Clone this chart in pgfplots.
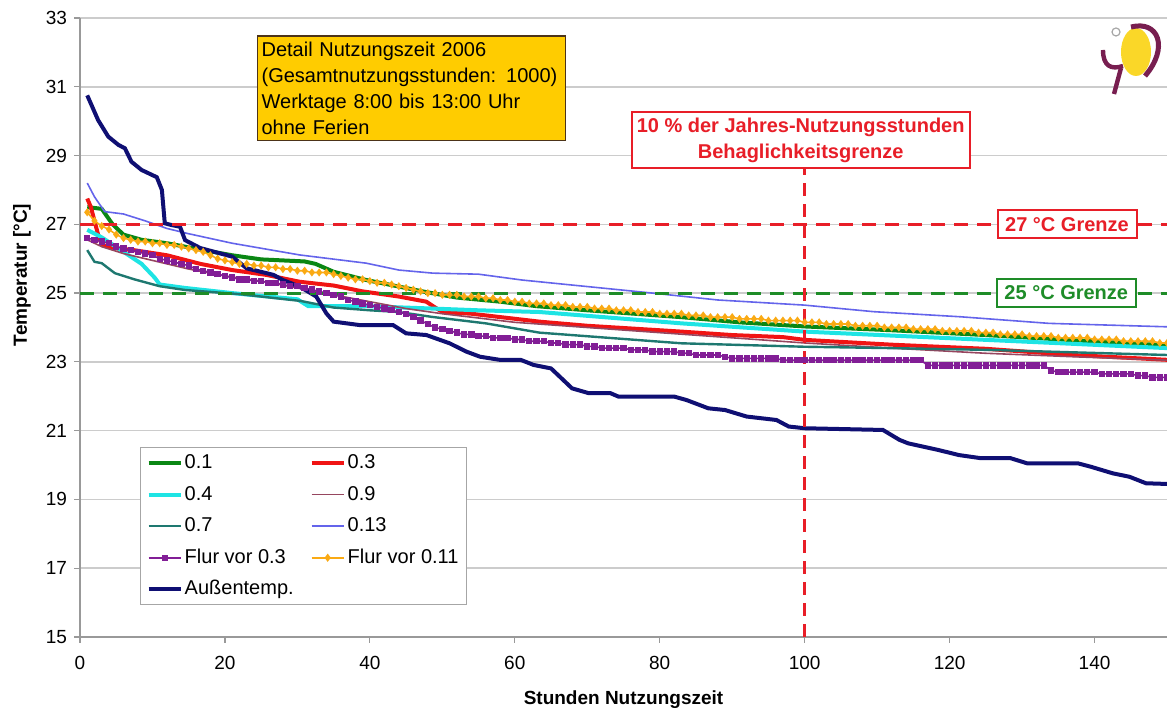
\documentclass[border=0pt]{standalone}
\usepackage{fontspec}
\setmainfont{Liberation Sans}
\usepackage{pgfplots}
\pgfplotsset{compat=1.18}
\definecolor{cGreen}{RGB}{10,135,20}
\definecolor{cRed}{RGB}{240,20,20}
\definecolor{cCyan}{RGB}{30,228,228}
\definecolor{cNine}{RGB}{150,70,95}
\definecolor{cTeal}{RGB}{30,120,112}
\definecolor{cThirteen}{RGB}{100,100,235}
\definecolor{cPurple}{RGB}{130,30,150}
\definecolor{cOrange}{RGB}{250,170,20}
\definecolor{cNavy}{RGB}{15,15,115}
\definecolor{cRefRed}{RGB}{232,30,40}
\definecolor{cRefGreen}{RGB}{30,140,40}
\definecolor{cBox}{RGB}{255,204,0}
\definecolor{cLogoP}{RGB}{120,30,80}
\definecolor{cLogoY}{RGB}{250,215,40}
\begin{document}
\begin{tikzpicture}
\begin{axis}[
  scale only axis, width=543.5pt, height=309.5pt,
  xmin=0, xmax=150, ymin=15, ymax=33,
  xtick={0,20,...,140}, ytick={15,17,...,33},
  axis x line*=bottom, axis y line*=left,
  axis line style={draw=gray!80, line width=0.6pt, -},
  ymajorgrids, grid style={draw=gray!40, line width=0.8pt},
  tick style={draw=gray!80, line width=0.6pt},
  tick align=outside, major tick length=3pt,
  ticklabel style={font=\fontsize{9.5}{11}\selectfont},
  /pgf/number format/assume math mode=true,
  xticklabel style={yshift=-3pt},
  legend columns=2,
  legend cell align=left,
  legend style={at={(axis cs:8.3,20.53)}, anchor=north west, draw=gray!70, line width=0.6pt,
    font=\fontsize{10}{12}\selectfont, inner xsep=3pt, inner ysep=2pt, row sep=4.3pt,
    nodes={inner xsep=1pt, inner ysep=1pt, text height=7.5pt, text depth=2pt},
    /tikz/every even column/.append style={column sep=7pt}},
  legend image code/.code={\draw[mark repeat=2,mark phase=2,#1] plot coordinates {(0pt,0pt) (8pt,0pt) (16pt,0pt)};},
]
% 0.1
\addplot[cGreen, line width=2pt] coordinates {(1,27.5)(3,27.45)(4.5,27.0)(6,26.7)(8.5,26.55)(12,26.45)(14.5,26.35)(17,26.25)(21,26.1)(25,25.98)(31,25.92)(32.5,25.85)(35,25.62)(39.5,25.38)(44,25.19)(47.5,25.04)(52,24.87)(58,24.75)(63,24.62)(70,24.5)(83,24.3)(91,24.15)(100,24.03)(112,23.92)(125,23.78)(137,23.63)(150,23.48)};
\addlegendentry{0.1}
% 0.3
\addplot[cRed, line width=2pt] coordinates {(1,27.75)(1.5,27.5)(2.5,26.7)(3,26.4)(5,26.3)(7.4,26.25)(12,26.1)(16.6,25.85)(21,25.67)(25.7,25.53)(30.3,25.33)(35,25.22)(39,25.05)(44,24.9)(47.8,24.75)(48.5,24.65)(50,24.45)(54,24.4)(63.4,24.17)(70,24.05)(83,23.88)(90,23.78)(97,23.72)(100,23.64)(112,23.5)(125,23.38)(137,23.2)(150,23.06)};
\addlegendentry{0.3}
% 0.4
\addplot[cCyan, line width=2pt] coordinates {(1,26.84)(3,26.62)(6,26.2)(8.5,25.85)(10.3,25.45)(11,25.25)(14.5,25.15)(21,25.0)(30,24.82)(31.5,24.62)(39.5,24.62)(48.7,24.55)(55,24.5)(63.4,24.45)(83,24.12)(100,23.88)(125,23.64)(150,23.4)};
\addlegendentry{0.4}
% 0.9
\addplot[cNine, line width=0.8pt] coordinates {(1,26.55)(3,26.35)(6,26.15)(10,25.95)(15,25.7)(20,25.5)(25,25.35)(30,25.15)(35,24.95)(40,24.75)(45,24.55)(50,24.4)(60,24.15)(70,24.0)(80,23.85)(90,23.7)(100,23.55)(112,23.4)(125,23.25)(137,23.15)(150,23.05)};
\addlegendentry{0.9}
% 0.7
\addplot[cTeal, line width=1.2pt] coordinates {(1,26.25)(2,25.91)(3,25.87)(4.8,25.58)(7.5,25.4)(11,25.2)(14.5,25.09)(22,24.97)(30.5,24.77)(35,24.58)(40,24.5)(44,24.45)(48.5,24.31)(56,24.12)(63.4,23.85)(83,23.54)(100,23.44)(112,23.4)(125,23.35)(150,23.2)};
\addlegendentry{0.7}
% 0.13
\addplot[cThirteen, line width=0.8pt] coordinates {(1,28.2)(2,27.8)(3.4,27.37)(6,27.3)(9,27.1)(12,26.88)(14.7,26.74)(21,26.45)(30.3,26.11)(39.5,25.87)(44,25.67)(48.7,25.58)(55,25.55)(61,25.38)(70,25.19)(79,25.0)(88,24.8)(100,24.65)(109.5,24.46)(121.6,24.31)(133.7,24.12)(150,24.02)};
\addlegendentry{0.13}
% Flur vor 0.3
\addplot[cPurple, line width=0.8pt, mark=square*, mark size=1.2pt, mark options={solid}] coordinates {
(1,26.60)(2,26.55)(3,26.50)(4,26.45)(5,26.35)(6,26.30)(7,26.25)(8,26.20)(9,26.15)(10,26.10)
(11,26.00)(12,25.95)(13,25.90)(14,25.85)(15,25.80)(16,25.70)(17,25.65)(18,25.60)(19,25.55)(20,25.50)
(21,25.45)(22,25.40)(23,25.40)(24,25.35)(25,25.35)(26,25.30)(27,25.30)(28,25.25)(29,25.20)(30,25.20)
(31,25.15)(32,25.10)(33,25.05)(34,25.00)(35,24.95)(36,24.90)(37,24.80)(38,24.75)(39,24.70)(40,24.65)
(41,24.60)(42,24.55)(43,24.50)(44,24.45)(45,24.40)(46,24.30)(47,24.20)(48,24.10)(49,24.00)(50,23.95)
(51,23.90)(52,23.85)(53,23.80)(54,23.80)(55,23.75)(56,23.75)(57,23.70)(58,23.70)(59,23.70)(60,23.65)
(61,23.65)(62,23.60)(63,23.60)(64,23.60)(65,23.55)(66,23.55)(67,23.50)(68,23.50)(69,23.50)(70,23.45)
(71,23.45)(72,23.40)(73,23.40)(74,23.40)(75,23.40)(76,23.35)(77,23.35)(78,23.35)(79,23.30)(80,23.30)
(81,23.30)(82,23.30)(83,23.25)(84,23.25)(85,23.20)(86,23.20)(87,23.20)(88,23.20)(89,23.15)(90,23.10)
(91,23.10)(92,23.10)(93,23.10)(94,23.10)(95,23.10)(96,23.10)(97,23.05)(98,23.05)(99,23.05)(100,23.05)
(101,23.05)(102,23.05)(103,23.05)(104,23.05)(105,23.05)(106,23.05)(107,23.05)(108,23.05)(109,23.05)(110,23.05)
(111,23.05)(112,23.05)(113,23.05)(114,23.05)(115,23.05)(116,23.05)(117,22.90)(118,22.90)(119,22.90)(120,22.90)
(121,22.90)(122,22.90)(123,22.90)(124,22.90)(125,22.90)(126,22.90)(127,22.90)(128,22.90)(129,22.90)(130,22.90)
(131,22.90)(132,22.90)(133,22.90)(134,22.75)(135,22.70)(136,22.70)(137,22.70)(138,22.70)(139,22.70)(140,22.70)
(141,22.65)(142,22.65)(143,22.65)(144,22.65)(145,22.65)(146,22.60)(147,22.60)(148,22.55)(149,22.55)(150,22.55)};
\addlegendentry{Flur vor 0.3}
% Flur vor 0.11
\addplot[cOrange, line width=0.8pt, mark=diamond*, mark size=1.4pt, mark options={solid}] coordinates {
(1,27.35)(2,27.10)(3,26.95)(4,26.85)(5,26.70)(6,26.60)(7,26.55)(8,26.50)(9,26.50)(10,26.45)
(11,26.45)(12,26.40)(13,26.40)(14,26.35)(15,26.30)(16,26.25)(17,26.20)(18,26.10)(19,26.00)(20,25.95)
(21,25.90)(22,25.85)(23,25.85)(24,25.80)(25,25.80)(26,25.75)(27,25.75)(28,25.70)(29,25.70)(30,25.65)
(31,25.65)(32,25.60)(33,25.60)(34,25.60)(35,25.55)(36,25.50)(37,25.45)(38,25.40)(39,25.40)(40,25.35)
(41,25.30)(42,25.30)(43,25.25)(44,25.20)(45,25.15)(46,25.10)(47,25.05)(48,25.00)(49,25.00)(50,24.95)
(51,24.95)(52,24.95)(53,24.90)(54,24.90)(55,24.90)(56,24.85)(57,24.85)(58,24.80)(59,24.80)(60,24.75)
(61,24.75)(62,24.70)(63,24.70)(64,24.70)(65,24.65)(66,24.65)(67,24.65)(68,24.60)(69,24.60)(70,24.60)
(71,24.55)(72,24.55)(73,24.55)(74,24.50)(75,24.50)(76,24.50)(77,24.45)(78,24.45)(79,24.45)(80,24.40)
(81,24.40)(82,24.40)(83,24.40)(84,24.35)(85,24.35)(86,24.35)(87,24.30)(88,24.30)(89,24.30)(90,24.30)
(91,24.25)(92,24.25)(93,24.25)(94,24.25)(95,24.20)(96,24.20)(97,24.20)(98,24.20)(99,24.20)(100,24.15)
(101,24.15)(102,24.15)(103,24.10)(104,24.10)(105,24.10)(106,24.10)(107,24.05)(108,24.05)(109,24.05)(110,24.05)
(111,24.00)(112,24.00)(113,24.00)(114,24.00)(115,23.95)(116,23.95)(117,23.95)(118,23.95)(119,23.90)(120,23.90)
(121,23.90)(122,23.90)(123,23.90)(124,23.85)(125,23.85)(126,23.85)(127,23.80)(128,23.80)(129,23.80)(130,23.80)
(131,23.75)(132,23.75)(133,23.75)(134,23.75)(135,23.70)(136,23.70)(137,23.70)(138,23.70)(139,23.70)(140,23.65)
(141,23.65)(142,23.65)(143,23.65)(144,23.60)(145,23.60)(146,23.60)(147,23.60)(148,23.60)(149,23.55)(150,23.55)};
\addlegendentry{Flur vor 0.11}
% Aussentemperatur
\addplot[cNavy, line width=2pt] coordinates {(1,30.75)(2.5,30.03)(3.9,29.55)(5.3,29.31)(6.2,29.21)(7.1,28.82)(8.5,28.58)(10.6,28.37)(11.3,28.0)(11.7,27.03)(12.6,26.98)(13.8,26.93)(14.5,26.54)(16.6,26.31)(21,26.06)(23,25.72)(26.7,25.53)(28,25.38)(30.3,25.19)(32.6,24.9)(34,24.41)(35,24.17)(38.6,24.07)(43.2,24.07)(45,23.83)(47.8,23.78)(51,23.54)(53.3,23.3)(55.2,23.15)(57.9,23.06)(60.8,23.06)(62.6,22.91)(65,22.81)(67.9,22.23)(70.2,22.09)(73.2,22.09)(74.3,21.99)(82,21.99)(83.7,21.89)(86.7,21.65)(89,21.6)(92,21.41)(96.1,21.31)(97.8,21.12)(100,21.07)(110.8,21.02)(113.1,20.73)(114.3,20.63)(118.4,20.44)(121.3,20.29)(124.3,20.2)(128.4,20.2)(130.7,20.05)(137.7,20.05)(139.5,19.95)(142.5,19.76)(144.8,19.66)(147.1,19.47)(150,19.45)};
\addlegendentry{Außentemp.}
% reference lines
\draw[cRefRed, line width=1.5pt, dash pattern=on 7pt off 4.5pt] (axis cs:0,27) -- (axis cs:150,27);
\draw[cRefGreen, line width=1.5pt, dash pattern=on 7pt off 4.5pt] (axis cs:0,25) -- (axis cs:150,25);
\draw[cRefRed, line width=1.2pt, dash pattern=on 6.5pt off 4pt] (axis cs:100,15) -- (axis cs:100,28.6);
% annotation boxes
\node[draw=black!60!brown, line width=0.8pt, fill=cBox, anchor=north west, text width=150pt, align=left,
  inner xsep=2pt, inner ysep=3pt, minimum height=52pt, font=\fontsize{10}{13}\selectfont]
  at (axis cs:24.4,32.5) {Detail Nutzungszeit 2006\\(Gesamtnutzungsstunden: 1000)\\Werktage 8:00 bis 13:00 Uhr\\ohne Ferien};
\node[draw=cRefRed, line width=1pt, fill=white, text=cRefRed, align=center, inner xsep=2pt, inner ysep=2pt,
  minimum width=169pt, minimum height=28pt, font=\bfseries\fontsize{10}{13}\selectfont]
  at (axis cs:99.45,29.45) {10 \% der Jahres-Nutzungsstunden\\Behaglichkeitsgrenze};
\node[draw=cRefRed, line width=1pt, fill=white, text=cRefRed, inner sep=1pt,
  minimum width=69.5pt, minimum height=14pt, font=\bfseries\fontsize{10}{12}\selectfont]
  at (axis cs:136.2,27.0) {27 °C Grenze};
\node[draw=cRefGreen, line width=1pt, fill=white, text=cRefGreen, inner sep=1pt,
  minimum width=69.5pt, minimum height=14pt, font=\bfseries\fontsize{10}{12}\selectfont]
  at (axis cs:136.1,25.0) {25 °C Grenze};
\coordinate (ylab) at (rel axis cs:0,0.585);
\end{axis}
\node[rotate=90, font=\bfseries\fontsize{9.5}{11}\selectfont] at ([xshift=-29pt]ylab) {Temperatur [°C]};
\node[font=\bfseries\fontsize{9.5}{11}\selectfont] at ([yshift=-31.5pt]current axis.south) {Stunden Nutzungszeit};
% logo (decoration)
\begin{scope}[shift={(current axis.north east)}, x=0.5pt, y=-0.5pt]
  \fill[cLogoY] (-31,34) ellipse [x radius=15, y radius=24];
  \draw[cLogoP, line width=2.5pt] (-36,9) .. controls (-8,2) and (2,30) .. (-22,58);
  \draw[cLogoP, line width=2.2pt] (-64,32) .. controls (-64,48) and (-56,52) .. (-44,48);
  \draw[cLogoP, line width=2.2pt] (-46,50) -- (-53,76);
  \draw[gray!70, line width=0.6pt] (-51,14) circle (4);
\end{scope}
\pgfresetboundingbox
\useasboundingbox ([shift={(-40pt,-36pt)}]current axis.south west) rectangle ([shift={(0pt,9pt)}]current axis.north east);
\end{tikzpicture}
\end{document}
